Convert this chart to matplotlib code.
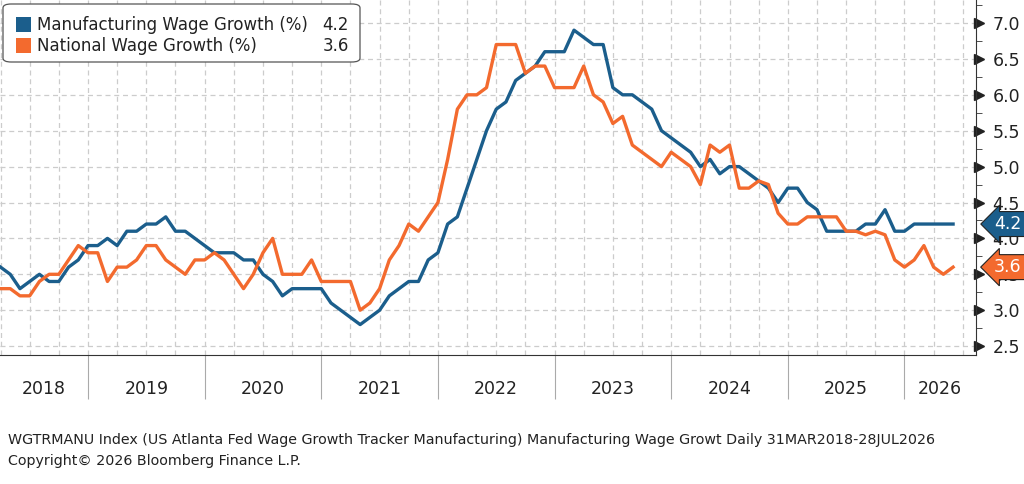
import matplotlib.pyplot as plt
import matplotlib.transforms as mtransforms
from matplotlib.patches import FancyBboxPatch, Rectangle
import numpy as np

# monthly values, Apr 2018 .. Jun 2026 (month index 3 = Apr 2018, 0 = Jan 2018)
manufacturing = [
    3.6, 3.5, 3.3, 3.4, 3.5, 3.4, 3.4, 3.6, 3.7, 3.9, 3.9, 4.0, 3.9, 4.1, 4.1,
    4.2, 4.2, 4.3, 4.1, 4.1, 4.0, 3.9, 3.8, 3.8, 3.8, 3.7, 3.7, 3.5, 3.4, 3.2,
    3.3, 3.3, 3.3, 3.3, 3.1, 3.0, 2.9, 2.8, 2.9, 3.0, 3.2, 3.3, 3.4, 3.4, 3.7,
    3.8, 4.2, 4.3, 4.7, 5.1, 5.5, 5.8, 5.9, 6.2, 6.3, 6.4, 6.6, 6.6, 6.6, 6.9,
    6.8, 6.7, 6.7, 6.1, 6.0, 6.0, 5.9, 5.8, 5.5, 5.4, 5.3, 5.2, 5.0, 5.1, 4.9,
    5.0, 5.0, 4.9, 4.8, 4.7, 4.5, 4.7, 4.7, 4.5, 4.4, 4.1, 4.1, 4.1, 4.1, 4.2,
    4.2, 4.4, 4.1, 4.1, 4.2, 4.2, 4.2, 4.2, 4.2,
]
national = [
    3.3, 3.3, 3.2, 3.2, 3.4, 3.5, 3.5, 3.7, 3.9, 3.8, 3.8, 3.4, 3.6, 3.6, 3.7,
    3.9, 3.9, 3.7, 3.6, 3.5, 3.7, 3.7, 3.8, 3.7, 3.5, 3.3, 3.5, 3.8, 4.0, 3.5,
    3.5, 3.5, 3.7, 3.4, 3.4, 3.4, 3.4, 3.0, 3.1, 3.3, 3.7, 3.9, 4.2, 4.1, 4.3,
    4.5, 5.1, 5.8, 6.0, 6.0, 6.1, 6.7, 6.7, 6.7, 6.3, 6.4, 6.4, 6.1, 6.1, 6.1,
    6.4, 6.0, 5.9, 5.6, 5.7, 5.3, 5.2, 5.1, 5.0, 5.2, 5.1, 5.0, 4.75, 5.3, 5.2,
    5.3, 4.7, 4.7, 4.8, 4.75, 4.35, 4.2, 4.2, 4.3, 4.3, 4.3, 4.3, 4.1, 4.1,
    4.05, 4.1, 4.05, 3.7, 3.6, 3.7, 3.9, 3.6, 3.5, 3.6,
]
months = np.arange(3, 3 + len(manufacturing))
years = ["2018", "2019", "2020", "2021", "2022", "2023", "2024", "2025", "2026"]
yticks = [2.5, 3.0, 3.5, 4.0, 4.5, 5.0, 5.5, 6.0, 6.5, 7.0]

BLUE = "#1b5e8c"
ORANGE = "#f36a2e"

fig = plt.figure(figsize=(10.24, 4.84), dpi=100)
ax = fig.add_axes([0.0, 1 - 355 / 484, 976 / 1024, 355 / 484])

x0 = 12 - 88 / 9.72
x1 = 12 + (976 - 88) / 9.72
ax.set_xlim(x0, x1)
ax.set_ylim(7.0 - 332 / 71.8, 7.0 + 23 / 71.8)

ax.plot(months, manufacturing, color=BLUE, lw=2.4, zorder=3)
ax.plot(months, national, color=ORANGE, lw=2.4, zorder=3)

# grid
for q in np.arange(0, 110, 3):
    ax.axvline(q, color="#cccccc", lw=0.9, ls=(0, (4, 3)), zorder=1)
for yv in yticks:
    ax.axhline(yv, color="#cccccc", lw=0.9, ls=(0, (4, 3)), zorder=1)

for s in ["top", "left"]:
    ax.spines[s].set_visible(False)
ax.spines["right"].set_color("#333333")
ax.spines["bottom"].set_color("#333333")

ax.yaxis.tick_right()
ax.set_yticks(yticks)
ax.set_yticklabels([f"{v:.1f}" for v in yticks], fontsize=12.5, color="#222222")
ax.set_yticks(np.arange(2.5, 7.3, 0.25), minor=True)
ax.tick_params(axis="y", which="major", length=0, pad=12)
ax.tick_params(axis="y", which="minor", length=4, color="#333333", direction="out")
trans = mtransforms.blended_transform_factory(ax.transAxes, ax.transData)
ax.plot([1.003] * len(yticks), yticks, ls="none", marker=">", ms=7,
        color="#222222", transform=trans, clip_on=False)

# x axis: year separators and centred labels
jan = [12 * i for i in range(1, 9)]
ax.set_xticks(jan)
ax.set_xticklabels([])
ax.tick_params(axis="x", which="major", length=32, color="#aaaaaa", width=0.8)
centers = [(max(12 * i, x0) + min(12 * (i + 1), x1)) / 2 for i in range(9)]
ax.set_xticks(centers, minor=True)
ax.set_xticklabels(years, minor=True, fontsize=12.5, color="#222222")
ax.tick_params(axis="x", which="minor", length=0, pad=18)

# value tags at the right
for val, col in [(4.2, BLUE), (3.6, ORANGE)]:
    ax.annotate(f"{val}", xy=(1.0, val), xycoords=trans, xytext=(23, 0),
                textcoords="offset points", ha="center", va="center",
                fontsize=12.5, color="white",
                bbox=dict(boxstyle="larrow,pad=0.2", fc=col, ec="#222222", lw=0.8),
                annotation_clip=False, zorder=5)

# legend box
fig.patches.append(FancyBboxPatch((3 / 1024, 1 - 62 / 484), 357 / 1024, 58 / 484,
                                  boxstyle="round,pad=0,rounding_size=0.008",
                                  transform=fig.transFigure, fc="white",
                                  ec="#555555", lw=0.9, zorder=10))
for i, (lab, val, col) in enumerate([("Manufacturing Wage Growth (%)", "4.2", BLUE),
                                     ("National Wage Growth (%)", "3.6", ORANGE)]):
    yc = 1 - (25 + i * 21) / 484
    fig.patches.append(Rectangle((16 / 1024, yc - 7 / 484), 15 / 1024, 15 / 484,
                                 transform=fig.transFigure, fc=col, ec="none", zorder=11))
    fig.text(37 / 1024, yc, lab, fontsize=12, va="center", color="#222222", zorder=12)
    fig.text(349 / 1024, yc, val, fontsize=12, va="center", ha="right",
             color="#222222", zorder=12)

fig.text(8 / 1024, 1 - 440 / 484,
         "WGTRMANU Index (US Atlanta Fed Wage Growth Tracker Manufacturing) "
         "Manufacturing Wage Growt Daily 31MAR2018-28JUL2026",
         fontsize=10.3, va="center", color="#222222")
fig.text(8 / 1024, 1 - 461 / 484, "Copyright\u00a9 2026 Bloomberg Finance L.P.",
         fontsize=10.3, va="center", color="#222222")

fig.savefig("out.png", dpi=100)
